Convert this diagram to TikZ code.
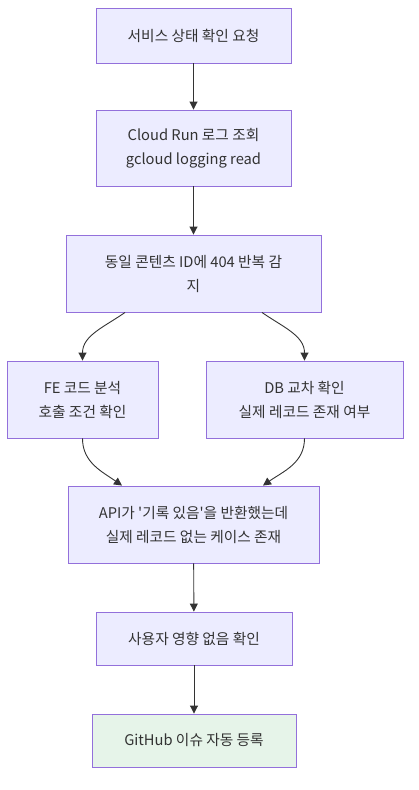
\documentclass[tikz,border=0pt]{standalone}
\usepackage{fontspec}
\setmainfont{Noto Sans CJK KR}[Ligatures=TeXOff]
\usetikzlibrary{arrows.meta}
\definecolor{boxfill}{HTML}{ECECFF}
\definecolor{boxline}{HTML}{9370DB}
\definecolor{donefill}{HTML}{E6F4E9}
\definecolor{textgray}{HTML}{333333}
\tikzset{
  stepbox/.style={draw=boxline, fill=boxfill, line width=0.9pt, align=center,
    text=textgray, inner sep=0pt, font=\fontsize{14.7}{24}\selectfont},
  donebox/.style={stepbox, fill=donefill},
  flow/.style={draw=textgray, line width=0.9pt, -{Triangle[length=8pt,width=8pt]}}
}
\begin{document}
\begin{tikzpicture}[x=1pt, y=-1pt]
\useasboundingbox (0,0) rectangle (418,790);
% steps, top to bottom
\node[stepbox, minimum width=195pt, minimum height=55pt] (request) at (193.5,35.5) {서비스 상태 확인 요청};
\node[stepbox, minimum width=195pt, minimum height=76pt] (logs) at (193.5,148) {Cloud Run 로그 조회\\gcloud logging read};
\node[stepbox, minimum width=255pt, minimum height=77pt] (repeat) at (193.5,273.5) {동일 콘텐츠 ID에 404 반복 감\\지};
\node[stepbox, minimum width=151pt, minimum height=77pt] (fecode) at (82.5,399.5) {FE 코드 분석\\호출 조건 확인};
\node[stepbox, minimum width=197pt, minimum height=77pt] (dbcheck) at (304.5,399.5) {DB 교차 확인\\실제 레코드 존재 여부};
\node[stepbox, minimum width=251pt, minimum height=77pt] (mismatch) at (193.5,524.5) {API가 '기록 있음'을 반환했는데\\실제 레코드 없는 케이스 존재};
\node[stepbox, minimum width=196pt, minimum height=53pt] (impact) at (194,638.5) {사용자 영향 없음 확인};
\node[donebox, minimum width=204pt, minimum height=53pt] (issue) at (194,740.5) {GitHub 이슈 자동 등록};

\draw[flow] (request) -- (logs);
\draw[flow] (logs) -- (repeat);
\draw[flow] ([xshift=-68.5pt]repeat.south) to[out=-145, in=90] (fecode.north);
\draw[flow] ([xshift=68.5pt]repeat.south) to[out=-35, in=90] (dbcheck.north);
\draw[flow] (fecode.south) to[out=-90, in=145] ([xshift=-71.5pt]mismatch.north);
\draw[flow] (dbcheck.south) to[out=-90, in=35] ([xshift=69.5pt]mismatch.north);
\draw[flow] (mismatch) -- (impact);
\draw[flow] (impact) -- (issue);

\end{tikzpicture}
\end{document}
